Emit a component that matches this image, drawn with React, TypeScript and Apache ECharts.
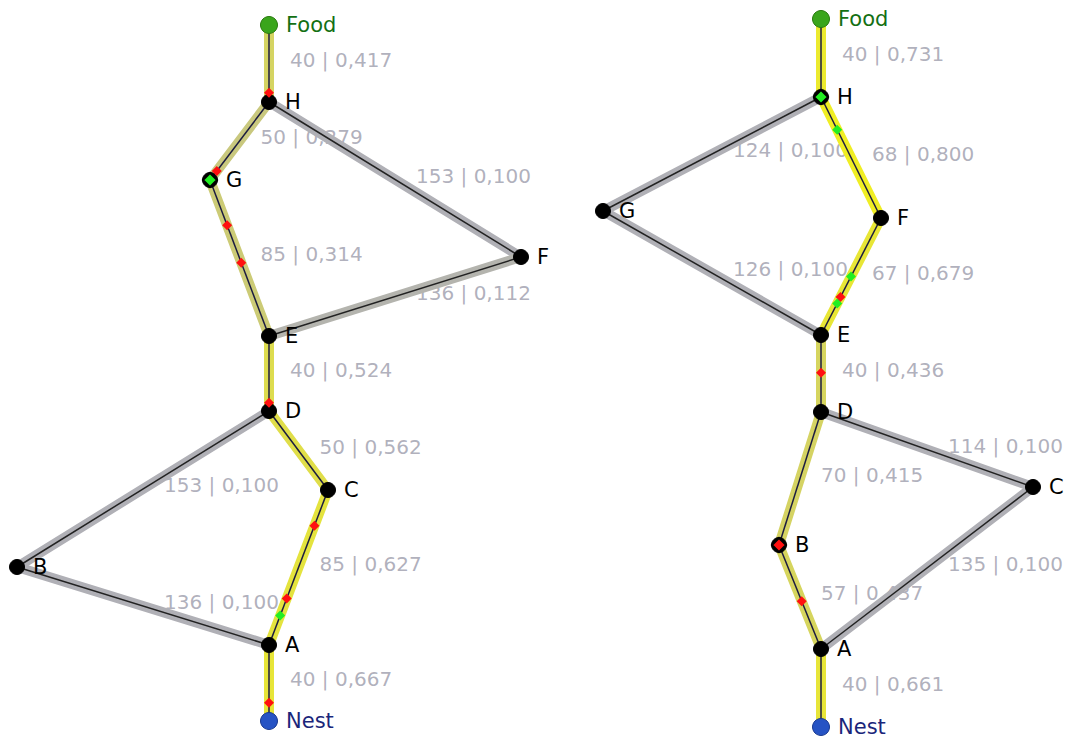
import React, { useEffect, useRef } from "react";
import * as echarts from "echarts";

// ---- Data ----
const nodeNames = ["Food", "H", "G", "F", "E", "D", "C", "B", "A", "Nest"];
const leftNodeX = [269, 269, 210, 521, 269, 269, 328, 17, 269, 269];
const leftNodeY = [25, 102, 180, 257, 336, 411, 490, 567, 645, 721];
const rightNodeX = [821, 821, 603, 881, 821, 821, 1033, 779, 821, 821];
const rightNodeY = [19, 97, 211, 218, 335, 412, 487, 545, 649, 727];

const leftEdgeFrom = ["Food", "H", "H", "G", "E", "E", "D", "D", "C", "B", "A"];
const leftEdgeTo = ["H", "G", "F", "E", "F", "D", "C", "B", "A", "A", "Nest"];
const leftEdgeLength = [40, 50, 153, 85, 136, 40, 50, 153, 85, 136, 40];
const leftEdgePheromone = [0.417, 0.279, 0.1, 0.314, 0.112, 0.524, 0.562, 0.1, 0.627, 0.1, 0.667];

const rightEdgeFrom = ["Food", "H", "H", "G", "F", "E", "D", "D", "C", "B", "A"];
const rightEdgeTo = ["H", "G", "F", "E", "E", "D", "C", "B", "A", "A", "Nest"];
const rightEdgeLength = [40, 124, 68, 126, 67, 40, 114, 70, 135, 57, 40];
const rightEdgePheromone = [0.731, 0.1, 0.8, 0.1, 0.679, 0.436, 0.1, 0.415, 0.1, 0.437, 0.661];

// ants travelling on edges: from, to, fraction along edge, kind
const leftAntFrom = ["Food", "H", "G", "G", "E", "C", "C", "C", "A"];
const leftAntTo = ["H", "G", "E", "E", "D", "A", "A", "A", "Nest"];
const leftAntT = [0.88, 0.885, 0.29, 0.53, 0.89, 0.23, 0.7, 0.81, 0.76];
const leftAntKind = ["red", "red", "red", "red", "red", "red", "red", "green", "red"];
const leftNodeAnts = ["G"];
const leftNodeAntKind = ["green"];

const rightAntFrom = ["H", "F", "F", "F", "E", "B"];
const rightAntTo = ["F", "E", "E", "E", "D", "A"];
const rightAntT = [0.27, 0.5, 0.675, 0.73, 0.49, 0.54];
const rightAntKind = ["green", "green", "red", "green", "red", "red"];
const rightNodeAnts = ["H", "B"];
const rightNodeAntKind = ["green", "red"];

// ---- Helpers ----
const antColor: Record<string, string> = { red: "#ff1010", green: "#22ee22" };

function haloColor(p: number) {
  const t = Math.pow(Math.max(0, Math.min(1, (p - 0.1) / 0.7)), 0.7);
  const g = [176, 176, 182];
  const y = [240, 238, 36];
  const c = g.map((v, i) => Math.round(v + (y[i] - v) * t));
  return `rgb(${c[0]},${c[1]},${c[2]})`;
}

function buildGraph(
  nx: number[], ny: number[],
  ef: string[], et: string[], el: number[], ep: number[],
  af: string[], at: string[], aT: number[], aK: string[],
  na: string[], naK: string[]
) {
  const pos = (n: string) => {
    const i = nodeNames.indexOf(n);
    return [nx[i], ny[i]];
  };
  const halos: any[] = [];
  const cores: any[] = [];
  const labels: any[] = [];
  ef.forEach((f, i) => {
    const a = pos(f);
    const b = pos(et[i]);
    halos.push({ coords: [a, b], lineStyle: { color: haloColor(ep[i]) } });
    cores.push({ coords: [a, b], lineStyle: { color: ep[i] > 0.2 ? "#1c1c40" : "#222222" } });
    labels.push({
      value: [(a[0] + b[0]) / 2, (a[1] + b[1]) / 2],
      text: `${el[i]} | ${ep[i].toFixed(3).replace(".", ",")}`,
    });
  });
  const ants: any[] = af.map((f, i) => {
    const a = pos(f);
    const b = pos(at[i]);
    return {
      value: [a[0] + (b[0] - a[0]) * aT[i], a[1] + (b[1] - a[1]) * aT[i]],
      itemStyle: { color: antColor[aK[i]], opacity: 1 },
    };
  });
  const nodeAnts: any[] = na.map((n, i) => ({
    value: pos(n),
    itemStyle: { color: antColor[naK[i]], opacity: 1 },
  }));
  const nodes: any[] = nodeNames.map((n, i) => {
    let color = "#000000";
    let labelColor = "#000000";
    let size = 15;
    let border = "#000000";
    if (n === "Food") { color = "#3aa51c"; labelColor = "#137013"; size = 17; border = "#2a7a10"; }
    if (n === "Nest") { color = "#2653c4"; labelColor = "#1a267a"; size = 17; border = "#1a3a90"; }
    return {
      name: n,
      value: [nx[i], ny[i]],
      symbolSize: size,
      itemStyle: { color, borderColor: border, borderWidth: 1, opacity: 1 },
      label: { color: labelColor },
    };
  });
  return { halos, cores, labels, ants, nodeAnts, nodes };
}

const left = buildGraph(
  leftNodeX, leftNodeY, leftEdgeFrom, leftEdgeTo, leftEdgeLength, leftEdgePheromone,
  leftAntFrom, leftAntTo, leftAntT, leftAntKind, leftNodeAnts, leftNodeAntKind
);
const right = buildGraph(
  rightNodeX, rightNodeY, rightEdgeFrom, rightEdgeTo, rightEdgeLength, rightEdgePheromone,
  rightAntFrom, rightAntTo, rightAntT, rightAntKind, rightNodeAnts, rightNodeAntKind
);

const all = {
  halos: [...left.halos, ...right.halos],
  cores: [...left.cores, ...right.cores],
  labels: [...left.labels, ...right.labels],
  ants: [...left.ants, ...right.ants],
  nodeAnts: [...left.nodeAnts, ...right.nodeAnts],
  nodes: [...left.nodes, ...right.nodes],
};

export default function App() {
  const ref = useRef<HTMLDivElement>(null);
  useEffect(() => {
    if (!ref.current) return;
    const chart = echarts.init(ref.current, undefined, { renderer: "svg" });
    chart.setOption({
      animation: false,
      backgroundColor: "#ffffff",
      grid: { left: 0, right: 0, top: 0, bottom: 0 },
      xAxis: { type: "value", min: 0, max: 1067, show: false },
      yAxis: { type: "value", min: 0, max: 740, inverse: true, show: false },
      series: [
        {
          type: "scatter",
          z: 1,
          symbolSize: 0,
          data: all.labels,
          label: {
            show: true,
            position: [21, -4],
            align: "left",
            verticalAlign: "middle",
            formatter: (p: any) => p.data.text,
            fontFamily: "DejaVu Sans",
            fontSize: 20,
            color: "#9c9cab",
          },
          silent: true,
        },
        {
          type: "lines",
          coordinateSystem: "cartesian2d",
          z: 2,
          lineStyle: { width: 10, opacity: 1, cap: "round" },
          data: all.halos,
          silent: true,
        },
        {
          type: "lines",
          coordinateSystem: "cartesian2d",
          z: 3,
          lineStyle: { width: 1.5, opacity: 1 },
          data: all.cores,
          silent: true,
        },
        {
          type: "scatter",
          z: 4,
          symbol: "circle",
          data: all.nodes,
          label: {
            show: true,
            position: "right",
            distance: 8,
            formatter: (p: any) => p.name,
            fontFamily: "DejaVu Sans",
            fontSize: 21,
          },
          silent: true,
        },
        {
          type: "scatter",
          z: 5,
          symbol: "diamond",
          symbolSize: 10,
          data: all.ants,
          silent: true,
        },
        {
          type: "scatter",
          z: 6,
          symbol: "diamond",
          symbolSize: 14,
          itemStyle: { borderColor: "#000", borderWidth: 2, opacity: 1 },
          data: all.nodeAnts,
          silent: true,
        },
      ],
    });
    return () => chart.dispose();
  }, []);
  return (
    <div
      ref={ref}
      style={{ position: "fixed", left: 0, top: 0, width: 1067, height: 740, background: "#fff" }}
    />
  );
}
